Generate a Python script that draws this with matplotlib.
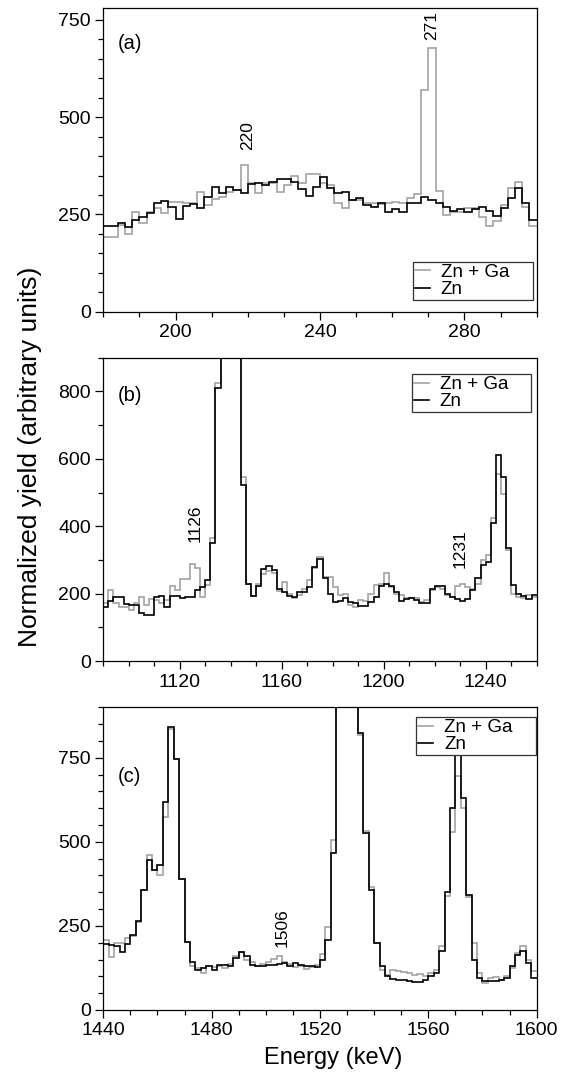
import numpy as np
import matplotlib
matplotlib.use('Agg')
import matplotlib.pyplot as plt
from matplotlib.ticker import MultipleLocator
from matplotlib.lines import Line2D

plt.rcParams['font.family'] = ['Liberation Sans', 'DejaVu Sans']

# ---------------- data (2 keV bins) ----------------
BIN = 2
a_start = 180
a_zn = [220, 220, 227, 217, 236, 244, 253, 280, 284, 270,
        237, 272, 277, 267, 296, 321, 304, 321, 313, 304,
        327, 330, 326, 334, 340, 340, 334, 315, 298, 321,
        346, 319, 304, 307, 287, 293, 274, 268, 280, 257,
        263, 257, 279, 280, 296, 287, 279, 270, 260, 264,
        255, 264, 268, 260, 246, 266, 291, 317, 279, 236]
a_znga = [193, 193, 223, 200, 257, 227, 257, 266, 253, 283,
          281, 279, 280, 308, 274, 290, 296, 308, 313, 377,
          330, 306, 330, 330, 308, 325, 349, 332, 354, 354,
          332, 326, 279, 266, 287, 287, 279, 279, 277, 279,
          283, 280, 291, 302, 570, 677, 309, 249, 257, 257,
          266, 266, 244, 220, 234, 274, 317, 334, 270, 219]

b_start = 1090
b_zn = [159, 179, 191, 191, 169, 166, 166, 143, 136, 136,
        191, 194, 161, 194, 194, 188, 191, 191, 210, 220,
        240, 349, 811, 2500, 6000, 4500, 1500, 521, 230, 194,
        222, 272, 282, 270, 215, 205, 194, 191, 205, 205,
        220, 278, 304, 245, 200, 176, 179, 186, 176, 171,
        163, 163, 176, 191, 222, 228, 222, 205, 179, 183,
        188, 181, 171, 171, 215, 222, 222, 200, 191, 184,
        179, 184, 212, 245, 285, 295, 410, 610, 545, 334,
        225, 200, 192, 185, 195]
b_znga = [173, 210, 173, 161, 161, 151, 173, 191, 166, 183,
          181, 171, 181, 222, 210, 242, 242, 289, 275, 191,
          225, 366, 826, 2500, 6000, 4500, 1500, 546, 230, 194,
          230, 258, 268, 262, 208, 235, 200, 186, 195, 215,
          240, 275, 308, 250, 250, 220, 196, 200, 166, 161,
          181, 179, 200, 225, 230, 260, 220, 200, 196, 188,
          186, 186, 176, 181, 210, 220, 215, 196, 191, 222,
          228, 220, 215, 230, 299, 314, 423, 556, 497, 329,
          200, 191, 186, 196, 191]

c_start = 1440
c_zn = [195, 192, 190, 172, 195, 222, 264, 358, 447, 417,
        432, 619, 842, 746, 389, 203, 142, 120, 125, 132,
        120, 135, 133, 132, 155, 172, 160, 135, 130, 130,
        135, 135, 138, 140, 132, 140, 135, 130, 132, 128,
        150, 209, 466, 1800, 3500, 3000, 1600, 825, 525, 357,
        200, 131, 100, 92, 90, 88, 85, 84, 82, 88,
        100, 110, 175, 352, 600, 760, 629, 342, 150, 95,
        85, 85, 85, 88, 95, 130, 165, 175, 140, 95]
c_znga = [209, 158, 200, 198, 214, 221, 261, 358, 461, 417,
          402, 573, 837, 746, 389, 203, 130, 125, 111, 132,
          128, 131, 126, 136, 160, 172, 150, 142, 130, 138,
          142, 152, 160, 142, 138, 128, 131, 123, 129, 133,
          166, 246, 505, 1800, 3500, 3000, 1600, 817, 533, 367,
          198, 120, 105, 118, 115, 112, 110, 105, 108, 100,
          110, 120, 190, 340, 530, 696, 600, 337, 200, 110,
          80, 95, 98, 90, 100, 125, 170, 190, 150, 115]

series_labels = ['Zn + Ga', 'Zn']
panel_labels = ['(a)', '(b)', '(c)']
peaks_a = [(220, 416, '220'), (271, 699, '271')]
peaks_b = [(1126, 353, '1126'), (1230, 275, '1231')]
peaks_c = [(1506, 188, '1506')]

GRAY = '#a3a3a3'
BLACK = '#000000'
TICK_FS = 14
LW = 1.2

fig = plt.figure(figsize=(5.76, 10.74), dpi=100)
L, W = 0.1793, 0.7524
axa = fig.add_axes([L, 0.7098, W, 0.2825])
axb = fig.add_axes([L, 0.3845, W, 0.2824])
axc = fig.add_axes([L, 0.0596, W, 0.2818])


def draw(ax, start, znga, zn):
    edges = start + BIN * np.arange(len(zn) + 1)
    ax.stairs(znga, edges, baseline=None, color=GRAY, lw=LW)
    ax.stairs(zn, edges, baseline=None, color=BLACK, lw=LW)


def style(ax, xlim, ylim, xmaj, xmin, ymaj, ymin):
    ax.set_xlim(*xlim)
    ax.set_ylim(*ylim)
    ax.xaxis.set_major_locator(MultipleLocator(xmaj))
    ax.xaxis.set_minor_locator(MultipleLocator(xmin))
    ax.yaxis.set_major_locator(MultipleLocator(ymaj))
    ax.yaxis.set_minor_locator(MultipleLocator(ymin))
    ax.tick_params(which='both', direction='out', top=False, right=False,
                   width=0.9, labelsize=TICK_FS, pad=3)
    ax.tick_params(which='major', length=6)
    ax.tick_params(which='minor', length=3.3)
    for s in ax.spines.values():
        s.set_linewidth(0.9)


def legend(ax, loc, bbox):
    handles = [Line2D([], [], color=GRAY, lw=LW), Line2D([], [], color=BLACK, lw=LW)]
    leg = ax.legend(handles, series_labels, loc=loc, bbox_to_anchor=bbox,
                    mode='expand', fontsize=13.5, handlelength=0.8,
                    handletextpad=0.6, borderpad=0.1, labelspacing=0.0,
                    borderaxespad=0, fancybox=False, framealpha=1,
                    edgecolor='#333333')
    leg.get_frame().set_linewidth(0.9)


draw(axa, a_start, a_znga, a_zn)
draw(axb, b_start, b_znga, b_zn)
draw(axc, c_start, c_znga, c_zn)

style(axa, (180, 300), (0, 780), 40, 10, 250, 50)
style(axb, (1090, 1260), (0, 900), 40, 10, 200, 100)
style(axc, (1440, 1600), (0, 900), 40, 10, 250, 50)

legend(axa, 'lower left', (0.714, 0.0386, 0.277, 0.1))
legend(axb, 'upper left', (0.7116, 0.846, 0.2746, 0.1))
legend(axc, 'upper left', (0.7215, 0.867, 0.2769, 0.1))

for ax, lab, yy in zip([axa, axb, axc], panel_labels, [0.884, 0.877, 0.772]):
    ax.text(0.034, yy, lab, transform=ax.transAxes, ha='left', va='center',
            fontsize=14.5)

for ax, peaks in zip([axa, axb, axc], [peaks_a, peaks_b, peaks_c]):
    for x, y, t in peaks:
        ax.text(x, y, t, rotation=90, ha='center', va='bottom', fontsize=12.5)

fig.text(333 / 576, 0.0149, 'Energy (keV)', ha='center', va='center', fontsize=17)
fig.text(30 / 576, 1 - 647 / 1074, 'Normalized yield (arbitrary units)',
         rotation=90, ha='center', va='bottom', fontsize=19)

fig.savefig('out.png', dpi=100)
